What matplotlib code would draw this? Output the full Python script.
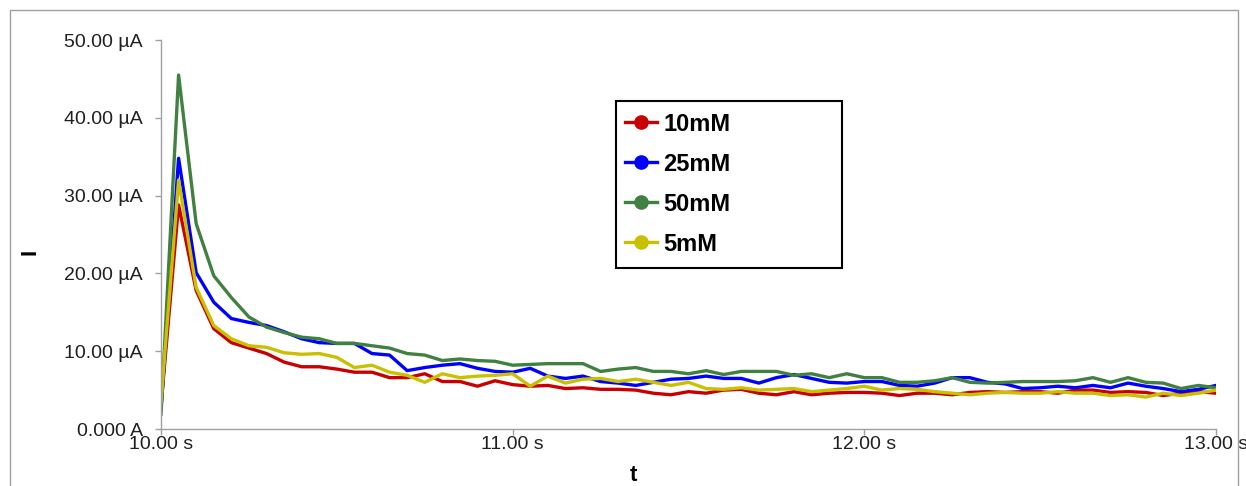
import matplotlib
matplotlib.use("Agg")
import matplotlib.pyplot as plt
from matplotlib.lines import Line2D
from matplotlib.patches import Rectangle
from matplotlib.ticker import FuncFormatter, MultipleLocator
import numpy as np

plt.rcParams['font.family'] = ['Liberation Sans', 'DejaVu Sans']

# time axis: 10.00 s to 13.00 s, one sample every 0.05 s
t = np.round(np.arange(61) * 0.05 + 10.0, 2)

# current in µA
i_10mM = [3.0, 28.8, 17.8, 12.9, 11.1, 10.4, 9.7, 8.6, 8.0, 8.0,
          7.7, 7.3, 7.3, 6.6, 6.6, 7.1, 6.1, 6.1, 5.5, 6.2,
          5.7, 5.5, 5.6, 5.2, 5.3, 5.1, 5.1, 5.0, 4.6, 4.4,
          4.8, 4.6, 5.0, 5.1, 4.6, 4.4, 4.8, 4.4, 4.6, 4.7,
          4.7, 4.6, 4.3, 4.6, 4.6, 4.4, 4.7, 4.8, 4.7, 4.8,
          4.8, 4.6, 5.0, 5.0, 4.7, 4.8, 4.7, 4.3, 4.6, 4.8,
          4.6]
i_25mM = [2.5, 34.8, 20.1, 16.3, 14.2, 13.7, 13.3, 12.5, 11.6, 11.1,
          11.0, 11.0, 9.7, 9.5, 7.5, 7.9, 8.2, 8.4, 7.8, 7.4,
          7.3, 7.8, 6.8, 6.5, 6.8, 6.1, 5.9, 5.6, 6.0, 6.4,
          6.5, 6.8, 6.5, 6.5, 5.9, 6.6, 7.0, 6.5, 6.0, 5.9,
          6.1, 6.1, 5.6, 5.5, 5.9, 6.6, 6.6, 6.0, 5.8, 5.2,
          5.3, 5.5, 5.3, 5.6, 5.3, 5.9, 5.5, 5.2, 4.8, 5.1,
          5.6]
i_50mM = [1.9, 45.5, 26.4, 19.7, 16.9, 14.4, 13.1, 12.4, 11.8, 11.6,
          11.0, 11.0, 10.7, 10.4, 9.7, 9.5, 8.8, 9.0, 8.8, 8.7,
          8.2, 8.3, 8.4, 8.4, 8.4, 7.4, 7.7, 7.9, 7.4, 7.4,
          7.1, 7.5, 7.0, 7.4, 7.4, 7.4, 6.9, 7.1, 6.6, 7.1,
          6.6, 6.6, 6.0, 6.0, 6.2, 6.6, 6.0, 5.9, 6.0, 6.1,
          6.1, 6.1, 6.2, 6.6, 6.0, 6.6, 6.0, 5.9, 5.2, 5.6,
          5.3]
i_5mM = [3.5, 32.0, 18.2, 13.3, 11.6, 10.7, 10.5, 9.8, 9.6, 9.7,
         9.2, 7.9, 8.2, 7.3, 6.9, 6.0, 7.1, 6.6, 6.8, 6.9,
         7.1, 5.5, 6.8, 5.9, 6.4, 6.5, 6.1, 6.4, 6.0, 5.6,
         6.0, 5.2, 5.1, 5.3, 5.0, 5.1, 5.2, 4.8, 5.0, 5.2,
         5.5, 5.0, 5.2, 5.1, 4.8, 4.6, 4.4, 4.6, 4.7, 4.6,
         4.6, 4.8, 4.6, 4.6, 4.3, 4.4, 4.1, 4.6, 4.3, 4.6,
         5.0]

labels = ['10mM', '25mM', '50mM', '5mM']
colors = ['#c80000', '#0000ff', '#408040', '#c8c000']
series = [i_10mM, i_25mM, i_50mM, i_5mM]

fig = plt.figure(figsize=(12.46, 4.86), dpi=100)
ax = fig.add_axes([161/1246, 1 - 429/486, 1055/1246, 389/486])

for y, c in zip(series, colors):
    ax.plot(t, y, color=c, lw=2.4, solid_joinstyle='round')

ax.set_xlim(10.0, 13.0)
ax.set_ylim(0, 50)
ax.xaxis.set_major_locator(MultipleLocator(1.0))
ax.yaxis.set_major_locator(MultipleLocator(10))
ax.xaxis.set_major_formatter(FuncFormatter(lambda v, p: f'{v:.2f} s'))
ax.yaxis.set_major_formatter(FuncFormatter(
    lambda v, p: '0.000 A' if v == 0 else f'{v:.2f} µA'))

for s in ['top', 'right']:
    ax.spines[s].set_visible(False)
for s in ['left', 'bottom']:
    ax.spines[s].set_color('#a0a0a0')
    ax.spines[s].set_linewidth(1.0)
ax.tick_params(axis='both', colors='#a0a0a0', length=4, width=1,
               labelcolor='#202020', labelsize=14)
ax.tick_params(axis='y', pad=9)
ax.tick_params(axis='x', pad=1)

# axis titles
fig.text(30/1246, 1 - 252/486, 'I', rotation=90, ha='center', va='center',
         fontsize=16, fontweight='bold')
fig.text(633/1246, 1 - 475/486, 't', ha='center', va='center',
         fontsize=16, fontweight='bold')

handles = [Line2D([0], [0], color=c, lw=2.4, marker='o', markersize=9.5)
           for c in colors]
leg = ax.legend(handles, labels, loc='center left',
                bbox_to_anchor=(464/1055, 245/389), borderaxespad=0,
                frameon=False, handlelength=1.36, borderpad=0,
                labelspacing=0.72, handletextpad=0.25,
                prop={'weight': 'bold', 'size': 17})

# legend box
ax.add_patch(Rectangle((455/1055, 161/389), 226/1055, 167/389,
                       transform=ax.transAxes, fill=False,
                       edgecolor='black', lw=1.5, zorder=5))

# outer chart border
fig.patches.append(Rectangle((10/1246, -0.1), 1228/1246, 1 - 10/486 + 0.1,
                             transform=fig.transFigure, fill=False,
                             edgecolor='#a0a0a0', lw=1.0))

fig.savefig('out.png', dpi=100)
